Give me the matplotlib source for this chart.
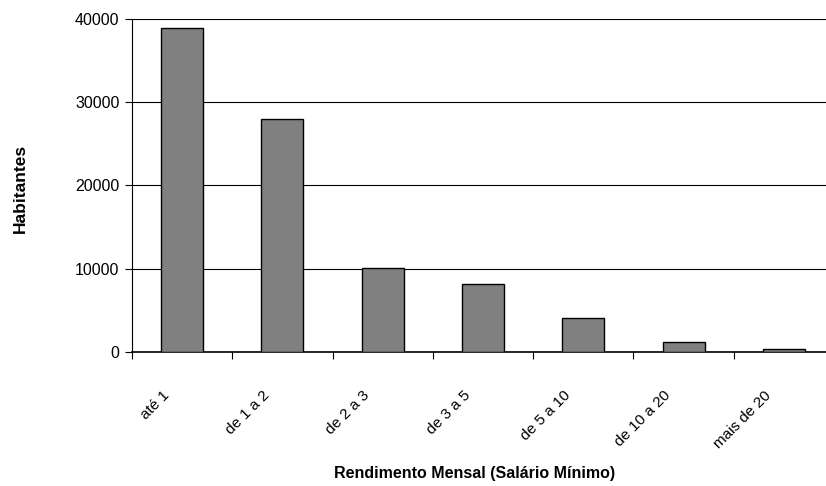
import matplotlib.pyplot as plt
import matplotlib.transforms as mtransforms
import numpy as np

plt.rcParams['font.family'] = ['Liberation Sans', 'DejaVu Sans']

# Renda mensal por faixa de salário mínimo
faixas = ['até 1', 'de 1 a 2', 'de 2 a 3', 'de 3 a 5', 'de 5 a 10', 'de 10 a 20', 'mais de 20']
habitantes = [38900, 28000, 10100, 8200, 4100, 1250, 400]
y_ticks = [0, 10000, 20000, 30000, 40000]

fig = plt.figure(figsize=(8.26, 4.86), dpi=100)
# eixo se estende um pouco além da borda direita
ax = fig.add_axes([132 / 826, 134 / 486, 702 / 826, 333 / 486])

x = np.arange(len(faixas))
ax.bar(x, habitantes, width=0.42, color='#808080', edgecolor='black', linewidth=1, zorder=3)

ax.set_xlim(-0.5, len(faixas) - 0.5)
ax.set_ylim(0, 40000)
ax.set_yticks(y_ticks)
ax.set_yticklabels([str(v) for v in y_ticks], fontsize=11.5)
ax.yaxis.grid(True, color='black', linewidth=0.8, zorder=0)

# marcas do eixo x entre as categorias
ax.set_xticks(np.arange(len(faixas) + 1) - 0.5)
ax.set_xticklabels([])
ax.set_xticks(x, minor=True)
ax.set_xticklabels(faixas, minor=True, rotation=45, ha='right', va='top',
                   rotation_mode='anchor', fontsize=11)
ax.tick_params(axis='x', which='minor', length=0, pad=26)
ax.tick_params(axis='x', which='major', length=5, width=0.8, direction='out')
ax.tick_params(axis='y', length=5, width=0.8, direction='out', pad=4)

# desloca os rótulos um pouco para a esquerda
shift = mtransforms.ScaledTranslation(-20 / 100, 0, fig.dpi_scale_trans)
for lbl in ax.get_xticklabels(minor=True):
    lbl.set_transform(lbl.get_transform() + shift)

for s in ['top', 'right']:
    ax.spines[s].set_visible(False)
ax.spines['left'].set_linewidth(0.8)
ax.spines['bottom'].set_linewidth(1.2)

fig.text(20 / 826, 1 - 188 / 486, 'Habitantes', rotation=90, ha='center', va='center',
         fontsize=12.5, fontweight='bold')
fig.text(475 / 826, 1 - 473 / 486, 'Rendimento Mensal (Salário Mínimo)', ha='center',
         va='center', fontsize=11.5, fontweight='bold')

fig.savefig('out.png', dpi=100)
